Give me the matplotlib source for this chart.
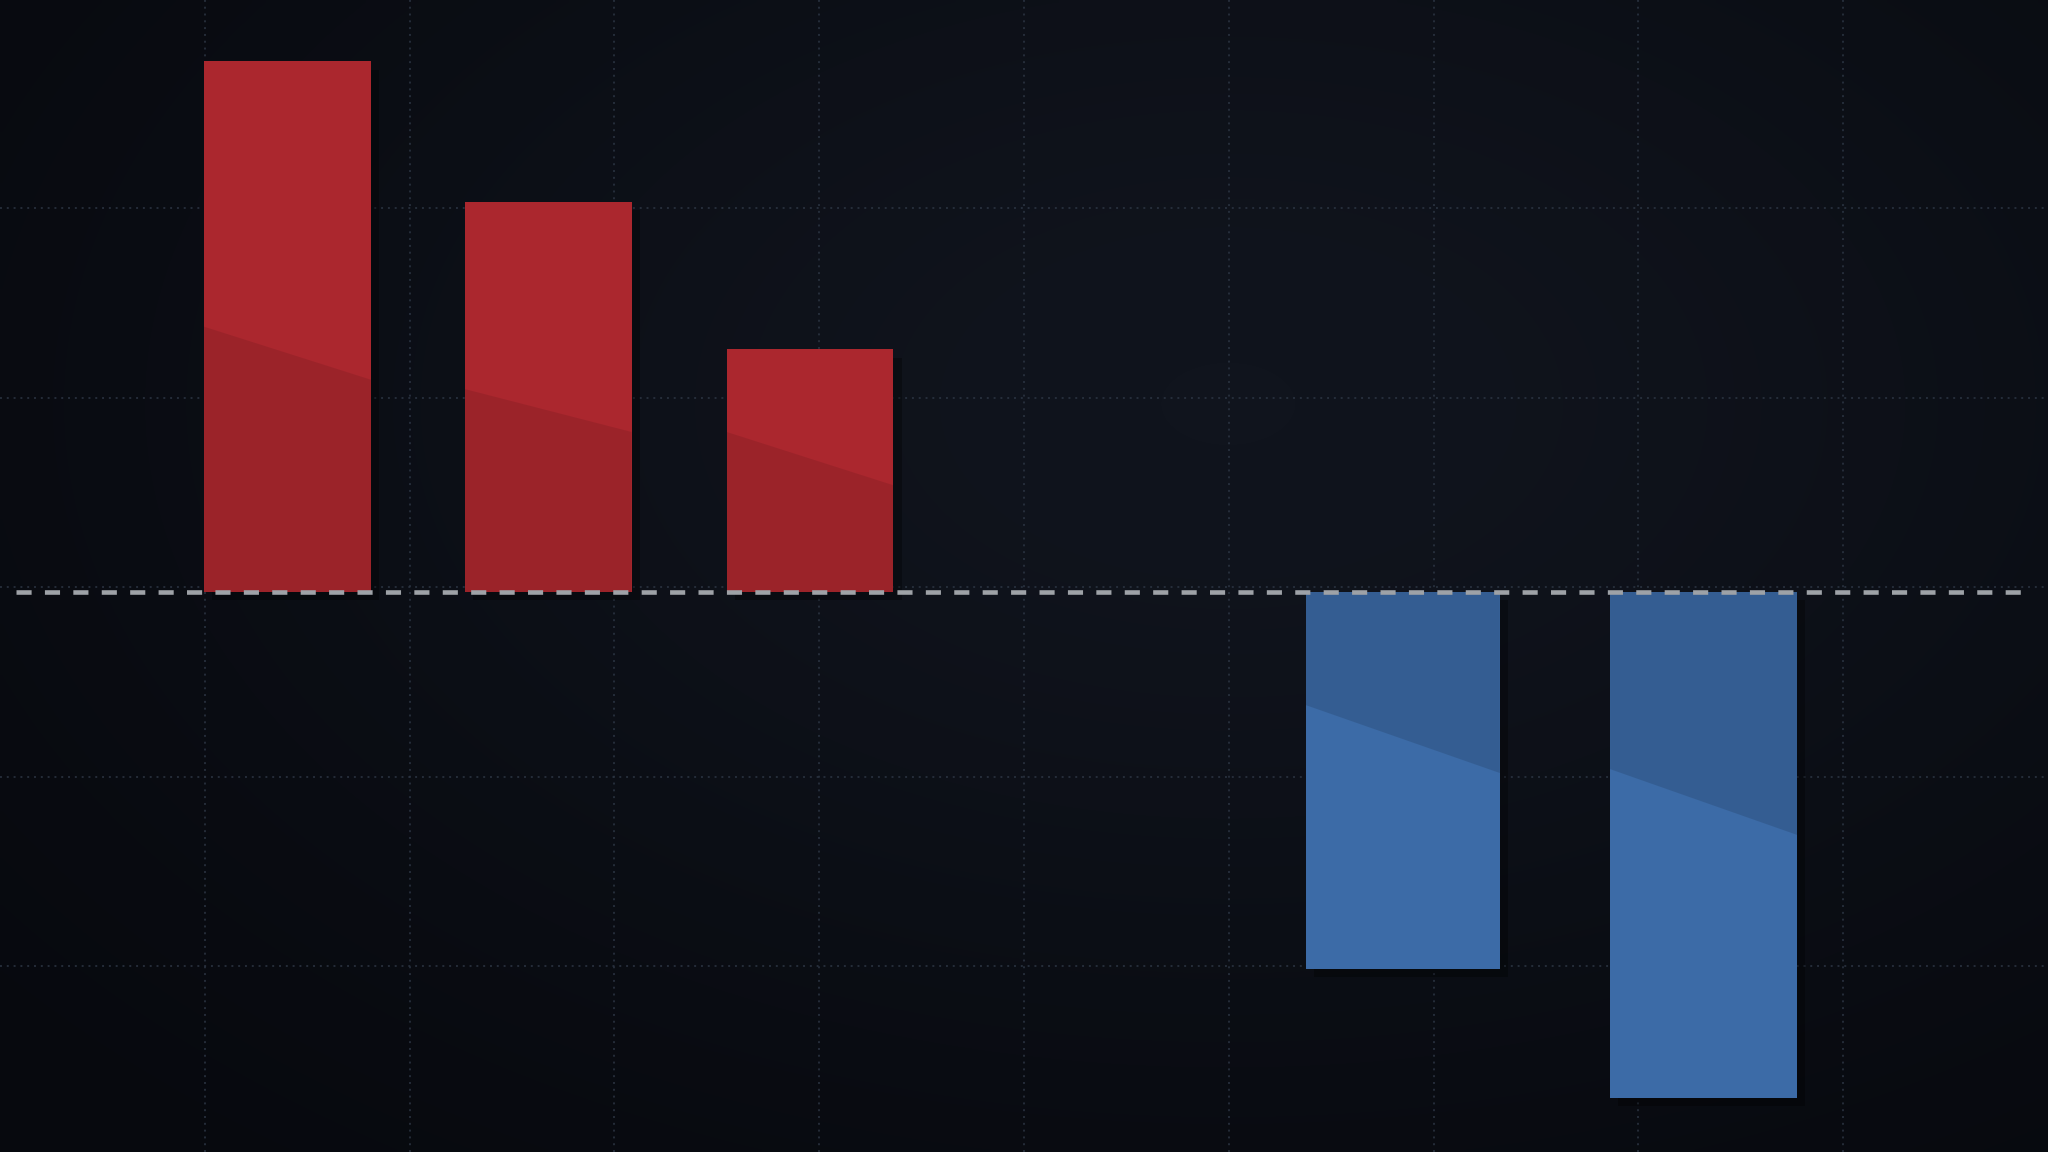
import numpy as np
import matplotlib.pyplot as plt
import matplotlib.patheffects as pe
from matplotlib.patches import Polygon
from matplotlib.colors import LinearSegmentedColormap

# data (one grid step = 1 unit)
labels = ['A', 'B', 'C', 'D', 'E']
values = [2.80, 2.06, 1.28, -1.99, -2.67]

# layout / style
bar_x = [1.404, 2.676, 3.955, 6.85, 8.318]
bar_w = [0.815, 0.815, 0.815, 0.947, 0.913]
bar_colors = ['#ab272e', '#ab272e', '#ab272e', '#3c6ba7', '#3c6ba7']
shade_alpha = [0.09, 0.09, 0.09, 0.12, 0.12]
# diagonal shading: fraction of bar length (from baseline) at left / right edge
shade_left = [0.50, 0.52, 0.66, 0.30, 0.35]
shade_right = [0.40, 0.41, 0.44, 0.48, 0.48]

bg = '#0b0e15'
ymin, ymax = -2.955, 3.124

fig = plt.figure(figsize=(20.48, 11.52), dpi=100, facecolor=bg)
ax = fig.add_axes([0, 0, 1, 1])
ax.set_facecolor(bg)

# soft background glow
xx, yy = np.meshgrid(np.linspace(0, 1, 400), np.linspace(0, 1, 240))
glow = np.exp(-(((xx - 0.6) / 0.55) ** 2 + ((yy - 0.35) / 0.6) ** 2))
cmap = LinearSegmentedColormap.from_list('bg', ['#07090e', '#10141d'])
ax.imshow(glow, extent=(0, 10, ymin, ymax), origin='upper', aspect='auto',
          cmap=cmap, zorder=0, interpolation='bilinear')

bars = ax.bar(bar_x, values, width=bar_w, color=bar_colors, zorder=2,
              path_effects=[pe.SimplePatchShadow(offset=(6, -6), shadow_rgbFace='black', alpha=0.3),
                            pe.Normal()])

for b, v, fl, fr, a in zip(bars, values, shade_left, shade_right, shade_alpha):
    x0 = b.get_x()
    x1 = x0 + b.get_width()
    poly = Polygon([(x0, 0), (x1, 0), (x1, v * fr), (x0, v * fl)],
                   closed=True, facecolor='black', alpha=a, edgecolor='none', zorder=2.5)
    ax.add_patch(poly)
    poly.set_clip_path(b)

ax.axhline(0, xmin=0.008, xmax=0.99, color='#9ea2a7', lw=3.3,
           linestyle=(0, (3.3, 2.9)), zorder=4)

ax.set_xlim(0, 10)
ax.set_ylim(ymin, ymax)
ax.set_xticks(np.arange(1, 10))
ax.set_yticks(np.arange(-2, 3) + 0.025)
ax.set_axisbelow(True)
ax.grid(True, color='#2c3543', linestyle=(0, (1, 2.5)), linewidth=1.4, alpha=0.8, zorder=1)
ax.tick_params(length=0, labelbottom=False, labelleft=False)
for s in ax.spines.values():
    s.set_visible(False)

fig.savefig('out.png', dpi=100, facecolor=bg)
